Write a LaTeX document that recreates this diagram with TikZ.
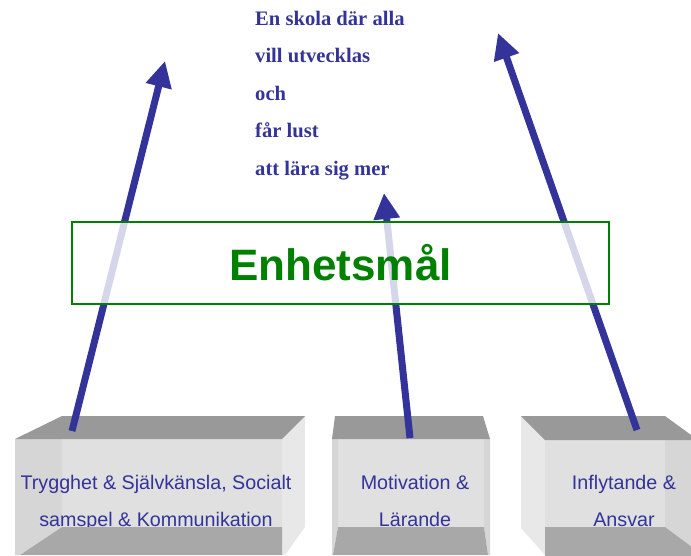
\documentclass[tikz,border=0pt]{standalone}
\usepackage{fontspec}
\setmainfont{Liberation Sans}
\newfontfamily\mottofont{Liberation Serif}
\usetikzlibrary{arrows.meta}
\definecolor{textblue}{HTML}{333399}
\definecolor{goalgreen}{HTML}{008000}
\definecolor{ceilgray}{HTML}{999999}
\definecolor{floorgray}{HTML}{A8A8A8}
\definecolor{wallgray}{HTML}{E0E0E0}
\definecolor{sidegray}{HTML}{D6D6D6}
\definecolor{sidelight}{HTML}{E8E8E8}

\begin{document}
\begin{tikzpicture}[x=1pt,y=-1pt,
    ceiling/.style={fill=ceilgray},
    floor/.style={fill=floorgray},
    backwall/.style={fill=wallgray},
    pillartext/.style={text=textblue, anchor=base, font=\fontsize{19.7}{23}\selectfont, inner sep=0pt},
    motto/.style={text=textblue, anchor=base west, font=\mottofont\bfseries\fontsize{20.6}{24}\selectfont, inner sep=0pt},
    goalbox/.style={draw=goalgreen, line width=2pt, fill=white, fill opacity=0.8, text opacity=1,
        text=goalgreen, font=\bfseries\fontsize{44}{50}\selectfont},
    uparrow/.style={draw=textblue, line width=7pt, -{Triangle[length=26pt,width=25pt]}}]
    \useasboundingbox (0,0) rectangle (691,555);
    \clip (0,0) rectangle (691,555);

    % Box 1: Trygghet
    \fill[backwall] (62,439) rectangle (282,555);
    \fill[sidegray] (15,439) -- (62,439) -- (62,527) -- (20,555) -- (15,555) -- cycle;
    \fill[sidelight] (282,439) -- (305,416) -- (305,527) -- (285,555) -- (282,555) -- cycle;
    \fill[ceiling] (15,439) -- (62,416) -- (305,416) -- (282,439) -- cycle;
    \node[pillartext] (trygghet1) at (156,489) {Trygghet \& Självkänsla, Socialt};
    \node[pillartext] (trygghet2) at (156,526) {samspel \& Kommunikation};
    \fill[floor] (62,527) -- (282,527) -- (282,555) -- (20,555) -- cycle;

    % Box 2: Motivation
    \fill[backwall] (338,439) rectangle (484,555);
    \fill[sidegray] (332,439) -- (338,439) -- (338,527) -- (333,555) -- (332,555) -- cycle;
    \fill[sidegray] (484,439) -- (490,439) -- (490,555) -- (488,555) -- (484,527) -- cycle;
    \fill[ceiling] (332,439) -- (335,416) -- (483,416) -- (490,439) -- cycle;
    \node[pillartext] (motivation1) at (415,489) {Motivation \&};
    \node[pillartext] (motivation2) at (415,526) {Lärande};
    \fill[floor] (338,527) -- (484,527) -- (488,555) -- (333,555) -- cycle;

    % Box 3: Inflytande
    \fill[backwall] (545,440) rectangle (665,555);
    \fill[sidelight] (521,416) -- (545,440) -- (545,555) -- (521,528) -- cycle;
    \fill[sidegray] (665,440) -- (700,440) -- (700,553) -- (665,527) -- cycle;
    \fill[ceiling] (521,416) -- (665,416) -- (698,440) -- (545,440) -- cycle;
    \node[pillartext] (inflytande1) at (624,489) {Inflytande \&};
    \node[pillartext] (inflytande2) at (624,526) {Ansvar};
    \fill[floor] (545,527) -- (665,527) -- (700,553) -- (700,560) -- (545,560) -- cycle;

    % Motto lines
    \foreach \line [count=\i] in {En skola där alla, vill utvecklas, och, får lust, att lära sig mer}
        \node[motto] (motto\i) at (255,{25+37.5*(\i-1)}) {\line};

    % Arrows from the pillars
    \coordinate (base1) at (72,431);
    \coordinate (tip1) at (165,61);
    \coordinate (base2) at (410,438);
    \coordinate (tip2) at (384,193);
    \coordinate (base3) at (637,430);
    \coordinate (tip3) at (498,33);
    \draw[uparrow] (base1) -- (tip1);
    \draw[uparrow] (base2) -- (tip2);
    \draw[uparrow] (base3) -- (tip3);

    % Goal box over the arrows
    \node[goalbox, minimum width=537pt, minimum height=82pt] (goal) at (340.5,263) {Enhetsmål};
\end{tikzpicture}
\end{document}
